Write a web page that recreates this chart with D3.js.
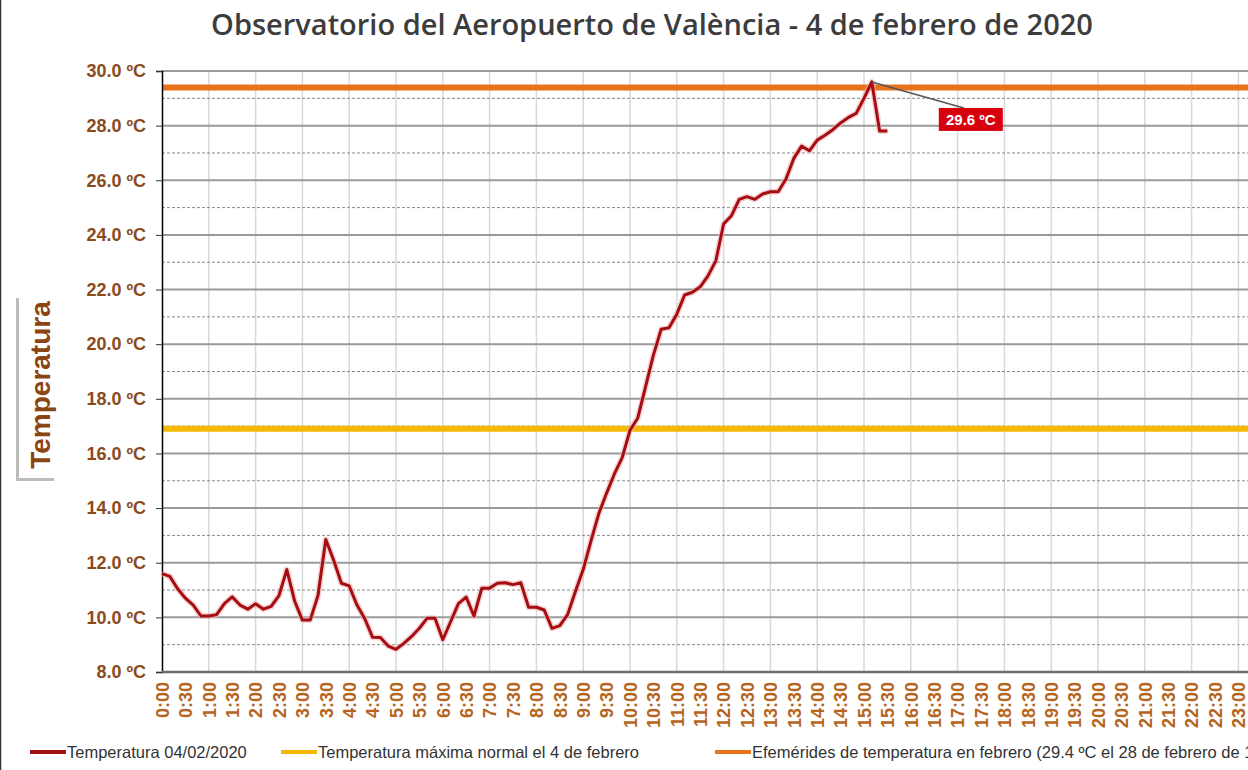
<!DOCTYPE html>
<html>
<head>
<meta charset="utf-8">
<script src="https://cdn.jsdelivr.net/npm/d3@7"></script>
<style>
  body { margin: 0; background: #fff; }
  svg { display: block; }
</style>
</head>
<body>
<script>
// temperatura cada 10 minutos desde las 0:00 (estimada del grafico)
const stepMinutes = 10;
const temps = [
  11.6, 11.5, 11.05, 10.7, 10.45, 10.05, 10.05, 10.1, 10.5, 10.75,
  10.45, 10.3, 10.5, 10.3, 10.4, 10.8, 11.75, 10.6, 9.9, 9.9,
  10.8, 12.85, 12.1, 11.25, 11.15, 10.45, 9.95, 9.27, 9.26, 8.95,
  8.83, 9.05, 9.3, 9.6, 9.97, 9.97, 9.18, 9.84, 10.5, 10.74,
  10.05, 11.07, 11.07, 11.25, 11.27, 11.2, 11.27, 10.37, 10.37, 10.27,
  9.6, 9.7, 10.1, 10.95, 11.75, 12.8, 13.8, 14.55, 15.25, 15.85,
  16.85, 17.3, 18.45, 19.6, 20.55, 20.6, 21.1, 21.8, 21.9, 22.1,
  22.5, 23.05, 24.4, 24.7, 25.3, 25.4, 25.3, 25.5, 25.58, 25.58,
  26.05, 26.8, 27.25, 27.08, 27.47, 27.65, 27.85, 28.1, 28.3, 28.45,
  29.0, 29.6, 27.8, 27.8
];
const normalMax = 16.9;
const recordFeb = 29.4;
const peakLabel = "29.6 ºC";

const hourLabels = [
  "0:00","0:30","1:00","1:30","2:00","2:30","3:00","3:30","4:00","4:30",
  "5:00","5:30","6:00","6:30","7:00","7:30","8:00","8:30","9:00","9:30",
  "10:00","10:30","11:00","11:30","12:00","12:30","13:00","13:30","14:00","14:30",
  "15:00","15:30","16:00","16:30","17:00","17:30","18:00","18:30","19:00","19:30",
  "20:00","20:30","21:00","21:30","22:00","22:30","23:00","23:30"
];
const yTicks = [8, 10, 12, 14, 16, 18, 20, 22, 24, 26, 28, 30];
const yMinor = [9, 11, 13, 15, 17, 19, 21, 23, 25, 27, 29];

const legendItems = [
  {label: "Temperatura 04/02/2020", color: "#a50d12", x: 30},
  {label: "Temperatura máxima normal el 4 de febrero", color: "#f5b800", x: 281},
  {label: "Efemérides de temperatura en febrero (29.4 ºC el 28 de febrero de 1960)", color: "#e8731c", x: 715}
];

const W = 1248, H = 770;
const plotLeft = 162, plotTop = 71, plotBottom = 672;
const hourW = 46.8;

const svg = d3.select("body").append("svg")
  .attr("width", W).attr("height", H)
  .style("font-family", "'Liberation Sans', Arial, sans-serif");

svg.append("rect").attr("width", W).attr("height", H).attr("fill", "#fff");
svg.append("line").attr("x1", 0.5).attr("x2", 0.5).attr("y1", 0).attr("y2", H)
  .attr("stroke", "#333").attr("stroke-width", 1.5);

// minutos -> px
const x = d3.scaleLinear().domain([0, 1440]).range([plotLeft, plotLeft + hourW * 24]);
const y = d3.scaleLinear().domain([8, 30]).range([plotBottom, plotTop]);
const xl = d3.scalePoint().domain(hourLabels).range([x(0), x(1410)]);

// titulo
svg.append("text")
  .attr("x", 652).attr("y", 35)
  .attr("text-anchor", "middle")
  .style("font-family", "'Open Sans', sans-serif")
  .style("font-size", "29px").style("font-weight", 600)
  .attr("fill", "#3c3c3c")
  .text("Observatorio del Aeropuerto de València - 4 de febrero de 2020");

const g = svg.append("g");

// rejilla vertical cada hora
g.selectAll(".vg").data(d3.range(1, 25)).enter().append("line")
  .attr("x1", d => x(d * 60)).attr("x2", d => x(d * 60))
  .attr("y1", plotTop).attr("y2", plotBottom)
  .attr("stroke", "#d9d9d9").attr("stroke-width", 1.5);

// rejilla horizontal
g.selectAll(".hm").data(yMinor).enter().append("line")
  .attr("x1", plotLeft).attr("x2", W)
  .attr("y1", d => y(d)).attr("y2", d => y(d))
  .attr("stroke", "#8a8a8a").attr("stroke-width", 1)
  .attr("stroke-dasharray", "3,2");
g.selectAll(".hM").data(yTicks.slice(1)).enter().append("line")
  .attr("x1", plotLeft).attr("x2", W)
  .attr("y1", d => y(d)).attr("y2", d => y(d))
  .attr("stroke", "#9a9a9a").attr("stroke-width", 2);

// lineas de referencia
g.append("line")
  .attr("x1", plotLeft).attr("x2", W)
  .attr("y1", y(normalMax)).attr("y2", y(normalMax))
  .attr("stroke", "#f5b800").attr("stroke-width", 6);
g.append("line")
  .attr("x1", plotLeft).attr("x2", W)
  .attr("y1", y(recordFeb)).attr("y2", y(recordFeb))
  .attr("stroke", "#e8731c").attr("stroke-width", 6);

// eje Y
const yAxis = g.append("g")
  .attr("transform", `translate(${plotLeft},0)`)
  .call(d3.axisLeft(y).tickValues(yTicks).tickSize(6).tickPadding(10)
    .tickFormat(d => d3.format(".1f")(d) + " ºC"));
yAxis.select(".domain").attr("stroke", "#000").attr("stroke-width", 1.5);
yAxis.selectAll(".tick line").attr("stroke", "#333");
yAxis.selectAll("text")
  .style("font-size", "18px").style("font-weight", "bold")
  .attr("fill", "#8b4a1c");

// eje X
g.append("line")
  .attr("x1", plotLeft).attr("x2", W)
  .attr("y1", plotBottom).attr("y2", plotBottom)
  .attr("stroke", "#6e6e6e").attr("stroke-width", 2.5);
const xAxis = g.append("g")
  .attr("transform", `translate(0,${plotBottom})`)
  .call(d3.axisBottom(xl).tickSize(0).tickPadding(0));
xAxis.select(".domain").remove();
xAxis.selectAll("text")
  .attr("transform", "rotate(-90)")
  .attr("x", -10).attr("y", 0).attr("dy", "0.35em")
  .attr("text-anchor", "end")
  .style("font-size", "18px").style("font-weight", "bold")
  .attr("fill", "#b5651d");

// serie de temperatura
const line = d3.line()
  .x((d, i) => x(i * stepMinutes))
  .y(d => y(d));
g.append("path").datum(temps)
  .attr("d", line).attr("fill", "none")
  .attr("stroke", "#f0b5b5").attr("stroke-width", 6)
  .attr("stroke-linejoin", "round").attr("opacity", 0.6);
g.append("path").datum(temps)
  .attr("d", line).attr("fill", "none")
  .attr("stroke", "#a50d12").attr("stroke-width", 3)
  .attr("stroke-linejoin", "round");

// etiqueta del maximo
const iMax = d3.maxIndex(temps);
const px = x(iMax * stepMinutes), py = y(temps[iMax]);
g.append("line")
  .attr("x1", px).attr("y1", py).attr("x2", px + 92).attr("y2", py + 26)
  .attr("stroke", "#555").attr("stroke-width", 1.5);
g.append("rect")
  .attr("x", px + 67).attr("y", py + 26).attr("width", 64).attr("height", 23)
  .attr("fill", "#d6000f");
g.append("text")
  .attr("x", px + 99).attr("y", py + 43)
  .attr("text-anchor", "middle")
  .style("font-size", "15px").style("font-weight", "bold").attr("fill", "#fff")
  .text(peakLabel);

// titulo eje Y
svg.append("rect").attr("x", 16).attr("y", 298).attr("width", 38).attr("height", 183)
  .attr("fill", "#bbb");
svg.append("rect").attr("x", 19).attr("y", 295).attr("width", 36).attr("height", 183)
  .attr("fill", "#fff");
svg.append("text")
  .attr("transform", "translate(50,385) rotate(-90)")
  .attr("text-anchor", "middle")
  .style("font-size", "28px").style("font-weight", "bold")
  .attr("fill", "#8b4513")
  .text("Temperatura");

// leyenda
const lg = svg.selectAll(".lg").data(legendItems).enter().append("g");
lg.append("line")
  .attr("x1", d => d.x).attr("x2", d => d.x + 36)
  .attr("y1", 752).attr("y2", 752)
  .attr("stroke", d => d.color).attr("stroke-width", 4);
lg.append("text")
  .attr("x", d => d.x + 37).attr("y", 758)
  .style("font-size", "16.5px").attr("fill", "#333")
  .text(d => d.label);
</script>
</body>
</html>
